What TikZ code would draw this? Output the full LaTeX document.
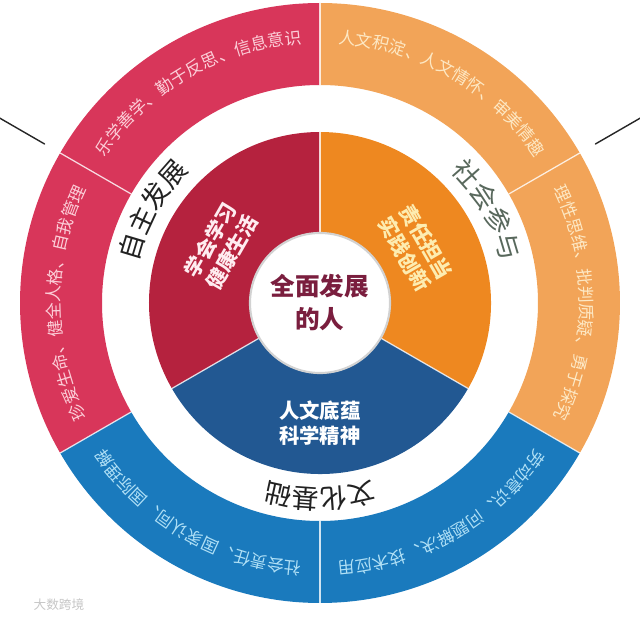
\documentclass[tikz,border=0pt]{standalone}
\usepackage{fontspec}
\newfontfamily\cjk{Noto Sans CJK SC}
\usetikzlibrary{decorations.text}

\definecolor{redOut}{RGB}{216,54,90}
\definecolor{redIn}{RGB}{181,34,62}
\definecolor{orangeOut}{RGB}{242,164,88}
\definecolor{orangeIn}{RGB}{238,136,32}
\definecolor{blueOut}{RGB}{26,122,189}
\definecolor{blueIn}{RGB}{34,88,146}
\definecolor{redTxt}{RGB}{252,206,216}
\definecolor{orangeTxt}{RGB}{253,232,196}
\definecolor{blueTxt}{RGB}{176,224,246}
\definecolor{redInTxt}{RGB}{255,236,240}
\definecolor{orangeInTxt}{RGB}{253,236,176}
\definecolor{personTxt}{RGB}{122,30,62}
\definecolor{ringTxt}{RGB}{34,34,34}
\definecolor{socialTxt}{RGB}{88,104,92}

\newcommand{\outfont}{\cjk\fontsize{12}{13}\selectfont}
\newcommand{\ringfont}{\cjk\fontsize{19}{20}\selectfont}
\newcommand{\band}[5]{\fill[#1] (#2:#4) arc (#2:#3:#4) -- (#3:#5) arc (#3:#2:#5) -- cycle;}
\newcommand{\arclabel}[5]{\path[decorate,decoration={text along path,text align=center,text={|#1|#5}}] (#2:#4) arc (#2:#3:#4);}

\begin{document}
\begin{tikzpicture}[x=0.025cm,y=0.025cm,line cap=round,line join=round,
	sepline/.style={white,opacity=0.8,line width=0.9pt},
	midlbl/.style={align=center,font=\cjk\bfseries\fontsize{14.5}{17.5}\selectfont},
	tick/.style={black!85,line width=1pt}]
	\useasboundingbox (-320,-315) rectangle (320,303);
	\clip (-320,-315) rectangle (320,303);
	\band{redOut}{90}{150}{300}{218}
	\band{redOut}{150}{210}{300}{218}
	\band{orangeOut}{30}{90}{300}{218}
	\band{orangeOut}{-30}{30}{300}{218}
	\band{blueOut}{210}{270}{300}{218}
	\band{blueOut}{270}{330}{300}{218}
	\foreach \a in {-30,30,90,150,210,270}
		\draw[sepline] (\a:218) -- (\a:300);
	\fill[redIn] (0,0) -- (90:171) arc (90:210:171) -- cycle;
	\fill[orangeIn] (0,0) -- (-30:171) arc (-30:90:171) -- cycle;
	\fill[blueIn] (0,0) -- (210:171) arc (210:330:171) -- cycle;
	\foreach \a in {-30,90,210}
		\draw[sepline] (0,0) -- (\a:171);
	\node[circle,minimum size=3.5cm,fill=white,draw=gray!35,line width=1.5pt,align=center,
		text=personTxt,font=\cjk\bfseries\fontsize{17.5}{23.5}\selectfont] (person) at (0,0) {全面发展\\的人};

	\arclabel{\outfont\color{redTxt}}{150}{90}{260}{乐学善学、勤于反思、信息意识}
	\arclabel{\outfont\color{redTxt}}{210}{150}{260}{珍爱生命、健全人格、自我管理}
	\arclabel{\outfont\color{orangeTxt}}{90}{30}{260}{人文积淀、人文情怀、审美情趣}
	\arclabel{\outfont\color{orangeTxt}}{30}{-30}{260}{理性思维、批判质疑、勇于探究}
	\arclabel{\outfont\color{blueTxt}}{270}{210}{260}{社会责任、国家认同、国际理解}
	\arclabel{\outfont\color{blueTxt}}{330}{270}{260}{劳动意识、问题解决、技术应用}

	\arclabel{\ringfont\color{ringTxt}}{181}{121}{186}{自主发展}
	\arclabel{\ringfont\color{socialTxt}}{59}{-1}{186}{社会参与}
	\arclabel{\ringfont\color{ringTxt}}{300}{240}{186}{文化基础}

	\node[midlbl,text=redInTxt,rotate=60] (learnLbl) at (150:114) {学会学习\\健康生活};
	\node[midlbl,text=orangeInTxt,rotate=-60] (dutyLbl) at (30:110) {责任担当\\实践创新};
	\node[midlbl,text=white] (cultureLbl) at (0,-120) {人文底蕴\\科学精神};

	\coordinate (tickLa) at (150:318);
	\coordinate (tickLb) at (150:380);
	\coordinate (tickRa) at (30:318);
	\coordinate (tickRb) at (30:380);
	\draw[tick] (tickLa) -- (tickLb);
	\draw[tick] (tickRa) -- (tickRb);

	\node[text=gray!45,font=\cjk\fontsize{9}{10}\selectfont] (mark) at (-261,-302) {大数跨境};
\end{tikzpicture}
\end{document}
